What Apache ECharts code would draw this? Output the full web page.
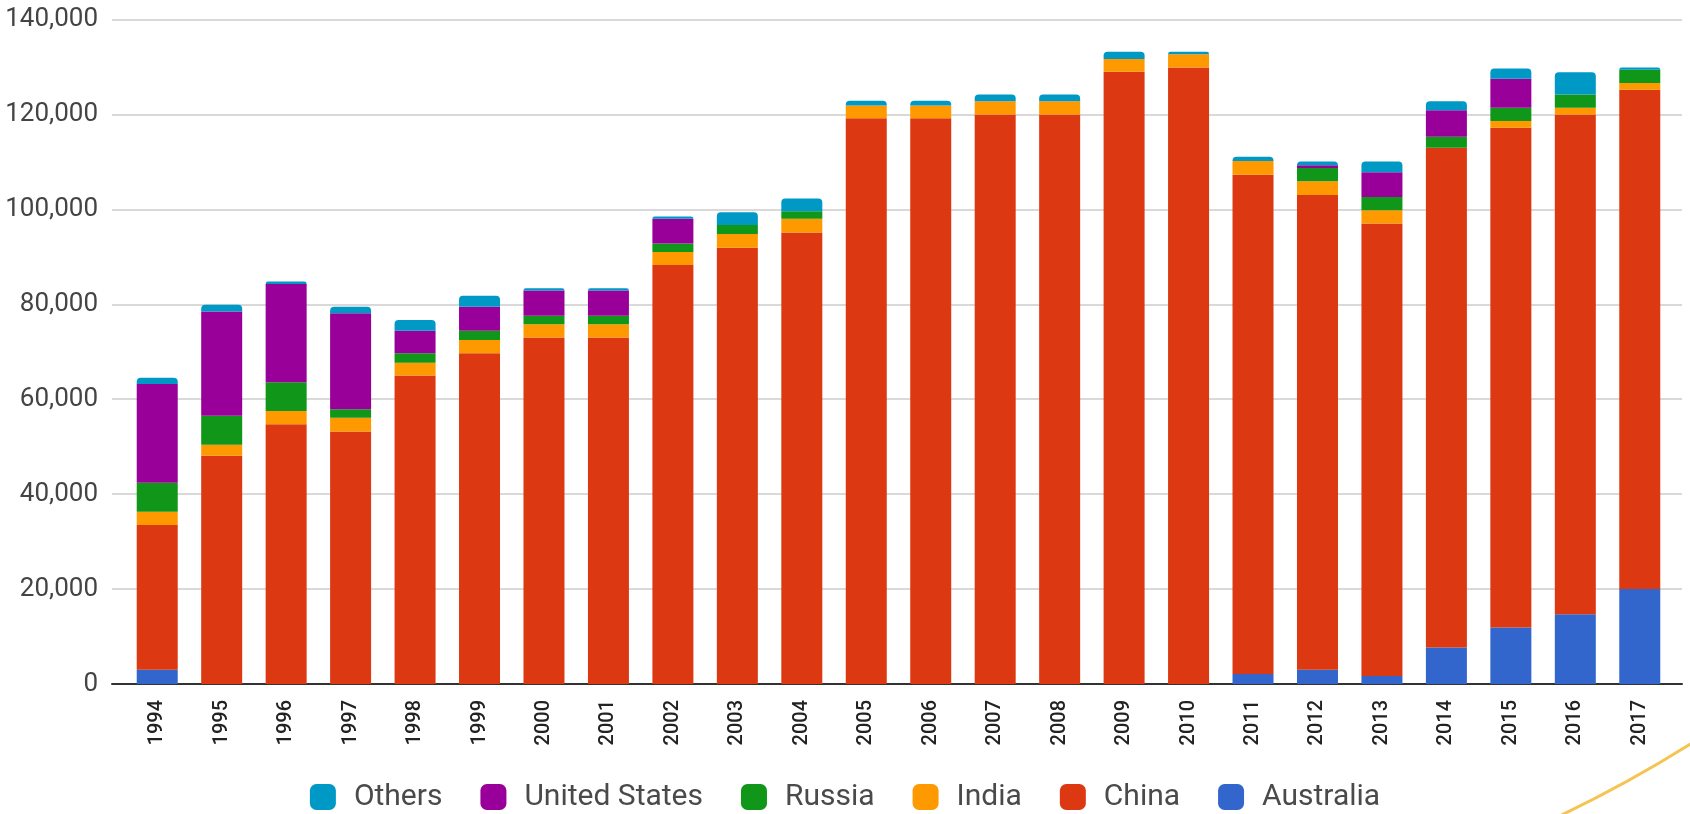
<!DOCTYPE html>
<html>
<head>
<meta charset="utf-8">
<script src="https://cdn.jsdelivr.net/npm/echarts@6/dist/echarts.min.js"></script>
<style>
  html, body { margin: 0; padding: 0; background: #fff; }
  #chart { width: 1690px; height: 814px; }
</style>
</head>
<body>
<div id="chart"></div>
<script>
// data (tonnes, thousands x 1000)
var years = ['1994','1995','1996','1997','1998','1999','2000','2001','2002','2003','2004','2005',
             '2006','2007','2008','2009','2010','2011','2012','2013','2014','2015','2016','2017'];
var australia = [3000,0,0,0,0,0,0,0,0,0,0,0,0,0,0,0,0,2100,3000,1700,7700,11900,14700,20000];
var china = [30500,48100,54700,53200,65000,69700,73000,73000,88300,91900,95100,119200,
             119200,120000,120000,129000,129900,105200,100000,95300,105300,105300,105300,105200];
var india = [2800,2300,2800,2900,2700,2800,2800,2800,2700,2900,2900,2700,
             2700,2800,2800,2700,2800,2900,2900,2800,0,1400,1400,1400];
var russia = [6100,6100,6100,1800,2000,1900,1800,1800,1800,1900,1600,0,
              0,0,0,0,0,0,2800,2800,2300,2800,2800,2800];
var unitedStates = [20800,22000,20700,20200,4700,5100,5300,5300,5200,0,0,0,
                    0,0,0,0,0,0,600,5200,5600,6100,0,0];
var others = [1300,1400,500,1400,2300,2300,500,500,500,2700,2700,1000,
              1000,1400,1400,1500,500,900,800,2300,1900,2200,4700,500];
var yTicks = { min: 0, max: 140000, interval: 20000 };

var colors = {
  'Australia': '#3366CC',
  'China': '#DC3912',
  'India': '#FF9900',
  'Russia': '#109618',
  'United States': '#990099',
  'Others': '#0099C6'
};

var myChart = echarts.init(document.getElementById('chart'));

function bar(name, data, top) {
  return {
    name: name,
    type: 'bar',
    stack: 'total',
    xAxisIndex: 1,
    yAxisIndex: 1,
    barWidth: 41,
    data: data,
    itemStyle: {
      color: colors[name],
      borderRadius: top ? [4, 4, 0, 0] : 0
    }
  };
}

var option = {
  animation: false,
  textStyle: { fontFamily: 'Roboto' },
  grid: [
    // grid 0: y labels, gridlines and base line
    { left: 112, right: 8, top: 19.5, bottom: 130 },
    // grid 1: the bars
    { left: 125, right: 18, top: 19.5, bottom: 130 }
  ],
  legend: {
    top: 777,
    left: 'center',
    itemWidth: 26,
    itemHeight: 26,
    itemGap: 38,
    icon: 'roundRect',
    data: ['Others', 'United States', 'Russia', 'India', 'China', 'Australia'],
    textStyle: { fontSize: 30, color: '#4a4a4a', fontFamily: 'Roboto', padding: [0, 0, 0, 13] }
  },
  xAxis: [
    {
      gridIndex: 0, type: 'value', min: 0, max: 1,
      axisLine: { show: true, lineStyle: { color: '#333', width: 2 } },
      axisTick: { show: false }, axisLabel: { show: false }, splitLine: { show: false }
    },
    {
      gridIndex: 1, type: 'category', data: years,
      axisLine: { show: false }, axisTick: { show: false },
      axisLabel: { rotate: 90, margin: 16, fontSize: 20, fontWeight: 500, color: '#222', fontFamily: 'Roboto' }
    }
  ],
  yAxis: [
    {
      gridIndex: 0, type: 'value', min: yTicks.min, max: yTicks.max, interval: yTicks.interval,
      axisLine: { show: false }, axisTick: { show: false },
      axisLabel: {
        margin: 14, fontSize: 26, color: '#444', fontFamily: 'Roboto',
        formatter: function (v) { return v.toLocaleString('en-US'); }
      },
      splitLine: { lineStyle: { color: '#ccc', width: 1.5 } }
    },
    {
      gridIndex: 1, type: 'value', min: yTicks.min, max: yTicks.max, interval: yTicks.interval,
      show: false, splitLine: { show: false }
    }
  ],
  series: [
    bar('Australia', australia),
    bar('China', china),
    bar('India', india),
    bar('Russia', russia),
    bar('United States', unitedStates),
    bar('Others', others, true)
  ],
  graphic: [
    {
      type: 'arc',
      silent: true,
      shape: { cx: 990, cy: -375, r: 1320, startAngle: 0.9, endAngle: 1.25 },
      style: { stroke: '#F6C452', lineWidth: 3, fill: null }
    }
  ]
};

myChart.setOption(option);
</script>
</body>
</html>
